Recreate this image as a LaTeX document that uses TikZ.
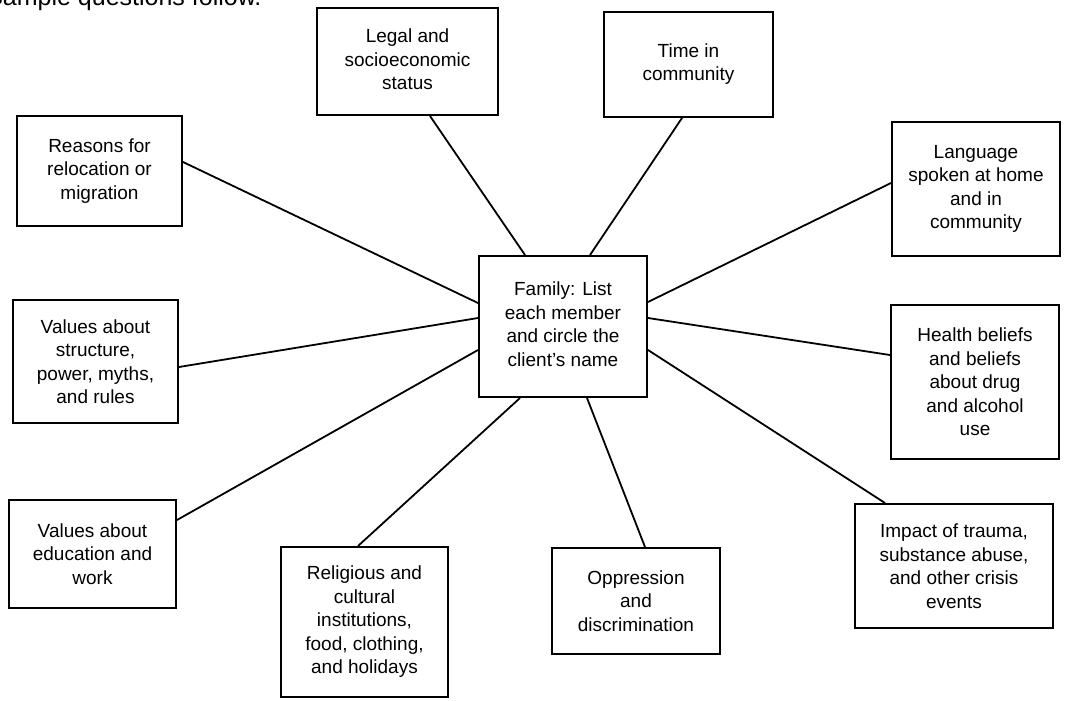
\documentclass[tikz,border=0pt]{standalone}
\usepackage{fontspec}
\setmainfont{Liberation Sans}
\newcommand\liftlines[2]{\raisebox{#1}{\begin{tabular}{@{}c@{}}#2\end{tabular}}}
\begin{document}
\begin{tikzpicture}[x=1pt,y=-1pt,
  box/.style={draw, line width=2pt, inner sep=0pt, align=center,
    font=\fontsize{19}{23.5}\selectfont},
  link/.style={line width=1.8pt}]
\useasboundingbox (0,0) rectangle (1065,701);
\clip (0,0) rectangle (1065,701);
\node[anchor=base east, font=\fontsize{25}{30}\selectfont] (head) at (265,6) {Sample questions follow.};
% boxes
\node[box, minimum width=168pt, minimum height=141pt] (fam) at (563,326.5)
  {\liftlines{5pt}{Family: List\\each member\\and circle the\\client's name}};
\node[box, minimum width=181pt, minimum height=107pt] (legal) at (407.5,61.5)
  {\liftlines{3pt}{Legal and\\socioeconomic\\status}};
\node[box, minimum width=169pt, minimum height=105pt] (time) at (688.5,64.5)
  {\liftlines{10pt}{Time in\\community}};
\node[box, minimum width=168pt, minimum height=134pt] (lang) at (976,189)
  {Language\\spoken at home\\and in\\community};
\node[box, minimum width=165pt, minimum height=110pt] (reasons) at (99.5,171)
  {Reasons for\\relocation or\\migration};
\node[box, minimum width=165pt, minimum height=123pt] (vstruct) at (95.5,361.5)
  {Values about\\structure,\\power, myths,\\and rules};
\node[box, minimum width=167pt, minimum height=108pt] (vedu) at (92.5,554)
  {Values about\\education and\\work};
\node[box, minimum width=167pt, minimum height=150pt] (relig) at (364.5,622)
  {Religious and\\cultural\\institutions,\\food, clothing,\\and holidays};
\node[box, minimum width=168pt, minimum height=106pt] (oppr) at (636,601)
  {Oppression\\and\\discrimination};
\node[box, minimum width=168pt, minimum height=154pt] (health) at (975,382)
  {Health beliefs\\and beliefs\\about drug\\and alcohol\\use};
\node[box, minimum width=198pt, minimum height=124pt] (impact) at (954,566)
  {Impact of trauma,\\substance abuse,\\and other crisis\\events};
% connectors
\draw[link] ([xshift=22.5pt]legal.south) -- ([xshift=-38pt]fam.north);
\draw[link] ([xshift=-6.5pt]time.south) -- ([xshift=27pt]fam.north);
\draw[link] ([yshift=6pt]lang.west) -- ([yshift=24.5pt]fam.east);
\draw[link] ([yshift=9pt]reasons.east) -- ([yshift=23.5pt]fam.west);
\draw[link] ([yshift=-5.5pt]vstruct.east) -- ([yshift=8.5pt]fam.west);
\draw[link] ([yshift=34pt]vedu.east) -- ([yshift=-23.5pt]fam.west);
\draw[link] ([xshift=-6.5pt]relig.north) -- ([xshift=-43pt]fam.south);
\draw[link] ([xshift=9pt]oppr.north) -- ([xshift=24pt]fam.south);
\draw[link] ([yshift=27pt]health.west) -- ([yshift=8.5pt]fam.east);
\draw[link] ([xshift=-69pt]impact.north) -- ([yshift=-23.5pt]fam.east);
\end{tikzpicture}
\end{document}
